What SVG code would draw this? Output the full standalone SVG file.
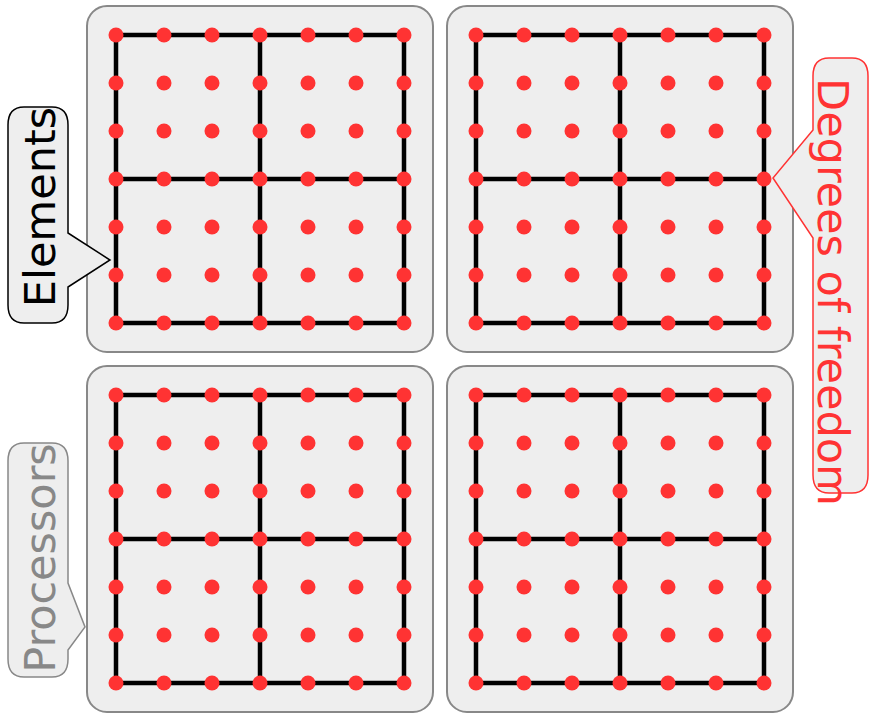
<svg xmlns="http://www.w3.org/2000/svg" xmlns:xlink="http://www.w3.org/1999/xlink" width="869" height="713" viewBox="0 0 869 713">
<style>
.panel{fill:#eeeeee;stroke:#888888;stroke-width:2}
.mesh{fill:none;stroke:#000000;stroke-width:4.5;stroke-linecap:square}
.dot{fill:#ff3333}
.lbl{font-family:"DejaVu Sans",sans-serif;font-size:43px;text-anchor:middle}
.bub{fill:#eeeeee;stroke-width:1.5}
</style>
<defs>
<g id="dotrow">
<circle class="dot" cx="0" cy="0" r="7.5"/><circle class="dot" cx="48" cy="0" r="7.5"/><circle class="dot" cx="96" cy="0" r="7.5"/><circle class="dot" cx="144" cy="0" r="7.5"/><circle class="dot" cx="192" cy="0" r="7.5"/><circle class="dot" cx="240" cy="0" r="7.5"/><circle class="dot" cx="288" cy="0" r="7.5"/>
</g>
<g id="mesh">
<rect class="panel" x="-29" y="-29" width="346" height="346" rx="20"/>
<path class="mesh" d="M0,0H288M0,144H288M0,288H288M0,0V288M144,0V288M288,0V288"/>
<use xlink:href="#dotrow" y="0"/><use xlink:href="#dotrow" y="48"/><use xlink:href="#dotrow" y="96"/><use xlink:href="#dotrow" y="144"/><use xlink:href="#dotrow" y="192"/><use xlink:href="#dotrow" y="240"/><use xlink:href="#dotrow" y="288"/>
</g>
</defs>
<g id="proc-tl"><use xlink:href="#mesh" x="116" y="35"/></g>
<g id="proc-tr"><use xlink:href="#mesh" x="476" y="35"/></g>
<g id="proc-bl"><use xlink:href="#mesh" x="116" y="395"/></g>
<g id="proc-br"><use xlink:href="#mesh" x="476" y="395"/></g>
<g id="connectors"></g>
<g id="callout-elements">
<path class="bub" stroke="#000000" d="M24,107H52Q68,107 68,125V233L110,260L68,287V305Q68,323 52,323H24Q8,323 8,305V125Q8,107 24,107Z"/>
<text class="lbl" fill="#000000" transform="translate(55,207) rotate(-90)">Elements</text>
</g>
<g id="callout-processors">
<path class="bub" stroke="#888888" d="M24,443H52Q68,443 68,461V583L85,627L68,650V659Q68,677 52,677H24Q8,677 8,659V461Q8,443 24,443Z"/>
<text class="lbl" fill="#888888" transform="translate(55,558) rotate(-90)">Processors</text>
</g>
<g id="callout-dof">
<path class="bub" stroke="#ff3333" d="M829,58H852Q868,58 868,76V475Q868,493 852,493H829Q813,493 813,475V238L773,178L813,130V76Q813,58 829,58Z"/>
<text class="lbl" fill="#ff3333" transform="translate(818,292) rotate(90)">Degrees of freedom</text>
</g>
</svg>
